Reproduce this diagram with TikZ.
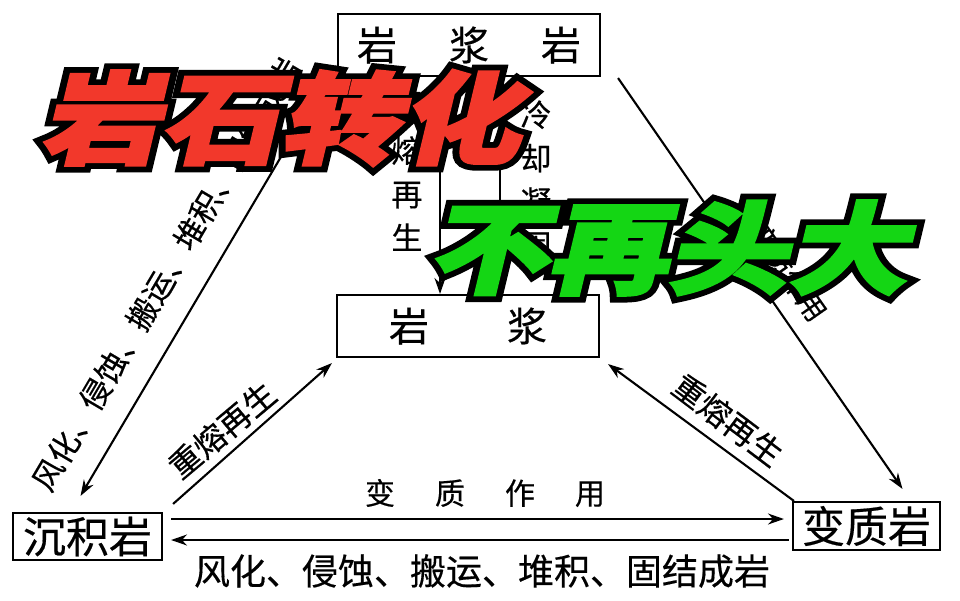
\documentclass[tikz,border=0pt]{standalone}
\usepackage{fontspec}
\usetikzlibrary{arrows.meta}
\setmainfont{Noto Sans CJK SC}
\newfontfamily\dgfont[FakeBold=0.4]{Noto Sans CJK SC}
\newfontfamily\tout[FakeSlant=0.2,FakeBold=14]{Noto Sans CJK SC}
\newfontfamily\tin[FakeSlant=0.2,FakeBold=2.5]{Noto Sans CJK SC}
\definecolor{tred}{HTML}{F2382B}
\definecolor{tgreen}{HTML}{14D614}
\tikzset{
  box/.style={draw, line width=2.1pt, inner sep=0pt, font=\dgfont\fontsize{40}{40}\selectfont},
  arr/.style={line width=2.1pt, -{Stealth[length=16pt,width=11pt]}},
  lbl/.style={inner sep=0pt, font=\dgfont\fontsize{32}{32}\selectfont},
  vlbl/.style={inner sep=0pt, align=center, font=\dgfont\fontsize{31}{43.5}\selectfont},
  ttl/.style={inner sep=0pt, font=\bfseries\fontsize{100}{100}\selectfont}
}
\begin{document}
\begin{tikzpicture}[x=1pt,y=-1pt]
\useasboundingbox (0,0) rectangle (960,600);
\fill[white] (0,0) rectangle (960,600);
% boxes
\node[box, minimum width=262pt, minimum height=62pt] (yjy) at (469,45) {岩\hspace{52pt}浆\hspace{52pt}岩};
\node[box, minimum width=262pt, minimum height=62pt] (yj) at (468,326) {岩\hspace{78pt}浆};
\node[box, minimum width=149pt, minimum height=47pt, font=\dgfont\fontsize{43}{43}\selectfont] (cjy) at (87.5,536.5) {沉积岩};
\node[box, minimum width=147pt, minimum height=48pt, font=\dgfont\fontsize{43}{43}\selectfont] (bzy) at (866.5,526) {变质岩};
% horizontal arrows
\draw[arr] ([xshift=8pt,yshift=17.5pt]cjy.east) -- ([xshift=-8pt,yshift=7pt]bzy.west);
\draw[arr] ([xshift=-3pt,yshift=-14pt]bzy.west) -- ([xshift=8pt,yshift=-3.5pt]cjy.east);
% remelting arrows to magma
\draw[arr] ([xshift=10pt,yshift=8pt]cjy.north east) -- ([xshift=-4pt,yshift=-5pt]yj.south west);
\draw[arr] ([xshift=2pt]bzy.north west) -- ([xshift=8pt,yshift=-6pt]yj.south east);
% long diagonals
\draw[arr] ([xshift=-10pt,yshift=-2pt]yjy.south west) -- ([xshift=-7pt,yshift=16pt]cjy.north);
\draw[arr] ([xshift=17pt,yshift=-1pt]yjy.south east) -- ([xshift=36pt,yshift=12pt]bzy.north);
% vertical arrows
\draw[arr] ([xshift=-29pt]yjy.south) -- ([xshift=-28pt]yj.north);
\draw[arr] ([xshift=32pt]yj.north) -- ([xshift=31pt]yjy.south);
% labels
\node[lbl, font=\dgfont\fontsize{30}{30}\selectfont] (l1) at (485,493) {变\hspace{40pt}质\hspace{40pt}作\hspace{40pt}用};
\node[lbl, font=\dgfont\fontsize{36}{36}\selectfont] (l2) at (482,571) {风化、侵蚀、搬运、堆积、固结成岩};
\node[lbl] (l3) [rotate=40] at (222,430) {重熔再生};
\node[lbl] (l4) [rotate=-37] at (728,420) {重熔再生};
\node[lbl, font=\dgfont\fontsize{31}{31}\selectfont] (l5) [rotate=59.5] at (166,274) {风化、侵蚀、搬运、堆积、固结成岩};
\node[lbl, font=\dgfont\fontsize{28}{28}\selectfont] (l6) [rotate=-55] at (788,272) {变质作用};
\node[vlbl] (l7) at (407,172) {重\\熔\\再\\生};
\node[vlbl] (l8) at (536,180) {冷\\却\\凝\\固};
% titles
\node[ttl, text=black] (t1o) at (280,118) {\scalebox{1.2}[1]{\tout\bfseries 岩石转化}};
\node[ttl, text=tred] (t1) at (280,118) {\scalebox{1.2}[1]{\tin\bfseries 岩石转化}};
\node[ttl, text=black] (t2o) at (667,248) {\scalebox{1.2}[1]{\tout\bfseries 不再头大}};
\node[ttl, text=tgreen] (t2) at (667,248) {\scalebox{1.2}[1]{\tin\bfseries 不再头大}};
\end{tikzpicture}
\end{document}
